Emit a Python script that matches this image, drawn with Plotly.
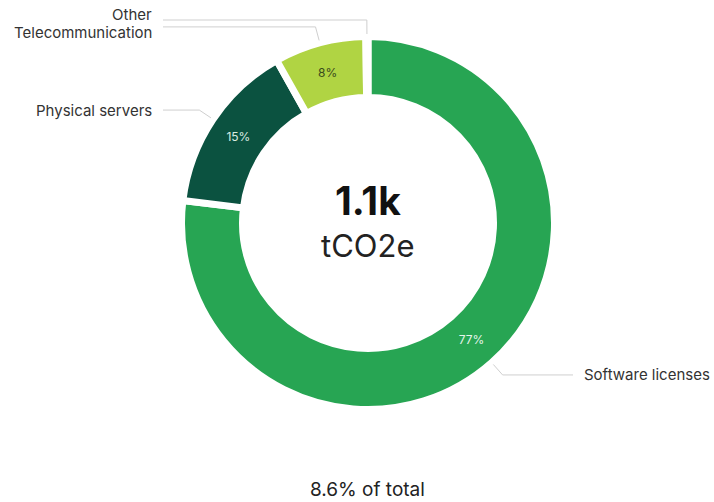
import math
import plotly.graph_objects as go

# ---- data ----
categories = ["Software licenses", "Physical servers", "Telecommunication", "Other"]
values = [850, 165, 88, 2]          # tCO2e
colors = ["#27a553", "#0b5240", "#b0d443", "#7fc8a0"]
text_colors = ["#e6f4ea", "#d9ebe2", "#3a4a1c", "#333333"]
share_of_total = "8.6% of total"
unit = "tCO2e"

W, H = 714, 502
cx, cy = 368, 223          # donut centre in pixels
R_OUT = 183                # visible outer radius
GAP = 7                    # white separator width
R_DRAW = R_OUT + GAP / 2
R_IN = 129
hole = (R_IN - GAP / 2) / R_DRAW
FONT = "Inter, sans-serif"

def px(x):
    return x / W

def py(y):
    return 1 - y / H

total = sum(values)
fig = go.Figure()
fig.add_trace(go.Pie(
    labels=categories,
    values=values,
    sort=False,
    direction="clockwise",
    rotation=0,
    hole=hole,
    marker=dict(colors=colors, line=dict(color="white", width=GAP)),
    texttemplate="%{percent:.0%}",
    textposition=["inside", "inside", "inside", "none"],
    insidetextorientation="horizontal",
    textfont=dict(family=FONT, size=12, color=text_colors),
    showlegend=False,
    hoverinfo="label+value+percent",
    domain=dict(x=[px(cx - R_DRAW), px(cx + R_DRAW)],
                y=[py(cy + R_DRAW), py(cy - R_DRAW)]),
))

# ---- leader lines & outside labels, derived from slice angles ----
R1, R2 = R_OUT + 6, R_OUT + 20
LEFT_COL, RIGHT_COL = 163, 573
items = []
cum = 0
for name, v in zip(categories, values):
    th = 2 * math.pi * (cum + v / 2) / total
    cum += v
    s, c = math.sin(th), math.cos(th)
    p1 = (cx + R1 * s, cy - R1 * c)
    p2 = (cx + R2 * s, cy - R2 * c)
    side = "right" if s > 0 else "left"
    items.append(dict(name=name, p1=p1, p2=p2, side=side, ly=p2[1]))

# spread labels on each side so they do not overlap
MIN_GAP = 18
for side in ("left", "right"):
    grp = sorted([it for it in items if it["side"] == side], key=lambda d: d["ly"])
    changed = True
    while changed:
        changed = False
        for a, b in zip(grp, grp[1:]):
            if b["ly"] - a["ly"] < MIN_GAP - 0.01:
                mid = (a["ly"] + b["ly"]) / 2
                a["ly"], b["ly"] = mid - MIN_GAP / 2, mid + MIN_GAP / 2
                changed = True

line_style = dict(color="#cfcfcf", width=1)
for it in items:
    (x1, y1), (x2, y2) = it["p1"], it["p2"]
    xe = LEFT_COL if it["side"] == "left" else RIGHT_COL
    fig.add_shape(type="line", xref="paper", yref="paper",
                  x0=px(x1), y0=py(y1), x1=px(x2), y1=py(y2), line=line_style)
    fig.add_shape(type="line", xref="paper", yref="paper",
                  x0=px(x2), y0=py(y2), x1=px(xe), y1=py(y2), line=line_style)
    left = it["side"] == "left"
    fig.add_annotation(x=px(xe - 10 if left else xe + 10), y=py(it["ly"]),
                       xref="paper", yref="paper", text=it["name"], showarrow=False,
                       xanchor="right" if left else "left", yanchor="middle", borderpad=0,
                       font=dict(family=FONT, size=15, color="#333333"))

# ---- centre and footer text ----
fig.add_annotation(x=px(cx), y=py(200), xref="paper", yref="paper",
                   text="<b>%.1fk</b>" % (total / 1000), showarrow=False,
                   font=dict(family=FONT, size=39, color="#111111"))
fig.add_annotation(x=px(cx), y=py(245), xref="paper", yref="paper",
                   text=unit, showarrow=False,
                   font=dict(family=FONT, size=31, color="#222222"))
fig.add_annotation(x=px(cx), y=0, xref="paper", yref="paper",
                   text=share_of_total, showarrow=False, yanchor="bottom", borderpad=0,
                   font=dict(family=FONT, size=19, color="#222222"))

fig.update_layout(width=W, height=H, margin=dict(l=0, r=0, t=0, b=0),
                  paper_bgcolor="white", plot_bgcolor="white")
fig.write_html("out.html", config={"displayModeBar": False},
               post_script="document.body.style.margin='0';document.body.style.overflow='hidden';")
